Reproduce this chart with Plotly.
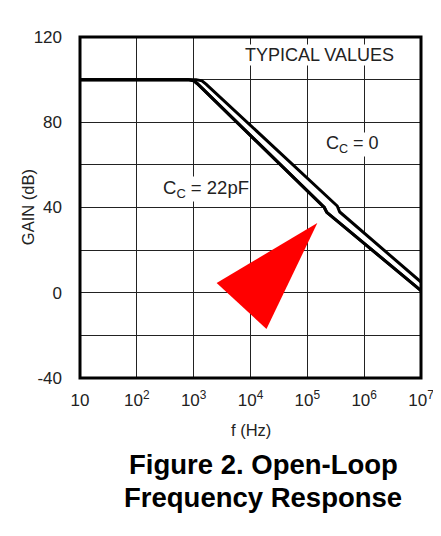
import plotly.graph_objects as go

# ---- data ----
freq_cc22 = [10, 800, 1000, 1150, 1.99e5, 2.2e5, 1e7]
gain_cc22 = [100, 100, 99.5, 98.2, 40.0, 37.7, 1.0]

freq_cc0 = [10, 1100, 1400, 1650, 3.36e5, 3.72e5, 1e7]
gain_cc0 = [100, 100, 99.4, 97.9, 40.7, 37.9, 5.0]

x_tick_vals = [10, 1e2, 1e3, 1e4, 1e5, 1e6, 1e7]
x_tick_text = ["10", "10<sup>2</sup>", "10<sup>3</sup>", "10<sup>4</sup>",
               "10<sup>5</sup>", "10<sup>6</sup>", "10<sup>7</sup>"]
y_tick_vals = [-40, -20, 0, 20, 40, 60, 80, 100, 120]
y_tick_text = ["-40", "", "0", "", "40", "", "80", "", "120"]

arrow_f = [1.5e5, 2535, 1.91e4]
arrow_g = [32.7, 4.6, -17.0]

FONT = "Liberation Sans, Arial, Helvetica, sans-serif"
TXT = "#222"

fig = go.Figure()

# red triangle marker
fig.add_trace(go.Scatter(x=arrow_f, y=arrow_g, mode="lines", fill="toself",
                         fillcolor="#ff0000", line=dict(width=0, color="#ff0000"),
                         hoverinfo="skip", showlegend=False))

# curves: Cc = 22pF (lower) and Cc = 0 (upper), white band between them
fig.add_trace(go.Scatter(x=freq_cc22, y=gain_cc22, mode="lines",
                         line=dict(color="black", width=3), showlegend=False,
                         name="CC = 22pF"))
fig.add_trace(go.Scatter(x=freq_cc0, y=gain_cc0, mode="lines",
                         line=dict(color="black", width=3), showlegend=False,
                         fill="tonexty", fillcolor="white", name="CC = 0"))
fig.add_trace(go.Scatter(x=freq_cc22, y=gain_cc22, mode="lines",
                         line=dict(color="black", width=3), showlegend=False,
                         hoverinfo="skip"))

# page body has an 8px margin: shift margins so the plot lands at x 80-421, y 37-378
fig.update_layout(
    width=441, height=536,
    margin=dict(l=72, r=28, t=29, b=166, autoexpand=False),
    paper_bgcolor="white", plot_bgcolor="white",
    font=dict(family=FONT, size=14, color=TXT),
    showlegend=False,
)
fig.update_xaxes(type="log", range=[1, 7], tickvals=x_tick_vals, ticktext=x_tick_text,
                 showgrid=True, gridcolor="#222", gridwidth=1.3, zeroline=False,
                 showline=False, ticks="", ticklabelstandoff=10, automargin=False,
                 tickfont=dict(size=17, family=FONT, color=TXT))
fig.update_yaxes(range=[-40, 120], tickvals=y_tick_vals, ticktext=y_tick_text,
                 showgrid=True, gridcolor="#222", gridwidth=1.3, zeroline=False,
                 showline=False, ticks="", ticklabelstandoff=17, automargin=False,
                 tickfont=dict(size=17, family=FONT, color=TXT))

# frame
fig.add_shape(type="rect", xref="paper", yref="paper", x0=0, y0=0, x1=1, y1=1,
              line=dict(color="black", width=3), layer="above")

C = dict(xanchor="center", yanchor="middle", showarrow=False)
ann = []
ann.append(dict(x=5.21, y=111.6, xref="x", yref="y", text="TYPICAL VALUES",
                font=dict(size=18, family=FONT, color=TXT),
                bgcolor="white", borderpad=0, **C))
ann.append(dict(x=5.80, y=69.5, xref="x", yref="y", text="C<sub>C</sub> = 0",
                font=dict(size=18, family=FONT, color=TXT),
                bgcolor="white", borderpad=0, **C))
ann.append(dict(x=3.22, y=48.5, xref="x", yref="y", text="C<sub>C</sub> = 22pF",
                font=dict(size=18.5, family=FONT, color=TXT),
                bgcolor="white", borderpad=0, **C))
ann.append(dict(x=0.5, y=-0.1525, xref="paper", yref="paper", text="f (Hz)",
                font=dict(size=16.5, family=FONT, color=TXT), **C))
ann.append(dict(x=-0.1525, y=0.501, xref="paper", yref="paper", text="GAIN (dB)",
                textangle=-90, font=dict(size=16.5, family=FONT, color=TXT), **C))
ann.append(dict(x=0.537, y=-0.255, xref="paper", yref="paper",
                text="<b>Figure 2. Open-Loop</b>",
                font=dict(size=27.5, family=FONT, color="black"), **C))
ann.append(dict(x=0.537, y=-0.349, xref="paper", yref="paper",
                text="<b>Frequency Response</b>",
                font=dict(size=27.5, family=FONT, color="black"), **C))
fig.update_layout(annotations=ann)

fig.write_html("out.html")
